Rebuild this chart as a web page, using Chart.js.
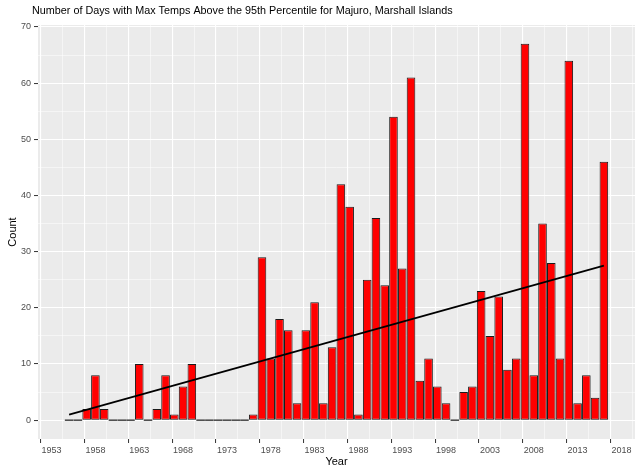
<!DOCTYPE html>
<html>
<head>
<meta charset="utf-8">
<script src="https://cdn.jsdelivr.net/npm/chart.js@4/dist/chart.umd.min.js"></script>
<style>
html,body{margin:0;padding:0;background:#fff;}
#wrap{width:636px;height:469px;position:relative;}
</style>
</head>
<body>
<div id="wrap"><canvas id="c"></canvas></div>
<script>
const chartTitle = "Number of Days with Max Temps Above the 95th Percentile for Majuro, Marshall Islands";
const years = [1955,1956,1957,1958,1959,1960,1961,1962,1963,1964,1965,1966,1967,1968,1969,1970,1971,1972,1973,1974,1975,1976,1977,1978,1979,1980,1981,1982,1983,1984,1985,1986,1987,1988,1989,1990,1991,1992,1993,1994,1995,1996,1997,1998,1999,2000,2001,2002,2003,2004,2005,2006,2007,2008,2009,2010,2011,2012,2013,2014,2015,2016];
const counts = [0,0,2,8,2,0,0,0,10,0,2,8,1,6,10,0,0,0,0,0,0,1,29,11,18,16,3,16,21,3,13,42,38,1,25,36,24,54,27,61,7,11,6,3,0,5,6,23,15,22,9,11,67,8,35,28,11,64,3,8,4,46];
const trendYears = [1955, 2016];
const trendValues = [1.0, 27.5];
const xMajorTicks = [1953,1958,1963,1968,1973,1978,1983,1988,1993,1998,2003,2008,2013,2018];
const yMajorTicks = [0,10,20,30,40,50,60,70];

const isMajorX = v => xMajorTicks.some(t => Math.abs(t - v) < 1e-6);
const isMajorY = v => yMajorTicks.some(t => Math.abs(t - v) < 1e-6);
const tv = c => (c && c.tick) ? c.tick.value : NaN;

const panelBg = {
  id: 'panelBg',
  beforeDraw(chart) {
    const {ctx, chartArea: a} = chart;
    ctx.save();
    ctx.fillStyle = '#EBEBEB';
    ctx.fillRect(a.left, a.top, a.right - a.left, a.bottom - a.top);
    ctx.restore();
  },
  afterDraw(chart) {
    const ctx = chart.ctx;
    ctx.save();
    ctx.fillStyle = '#000';
    ctx.font = '10.8px "Liberation Sans", Arial, sans-serif';
    ctx.textBaseline = 'middle';
    ctx.textAlign = 'left';
    ctx.fillText(chartTitle, 32, 11);
    ctx.restore();
  }
};

new Chart(document.getElementById('c'), {
  type: 'bar',
  data: {
    datasets: [
      {
        type: 'line',
        data: trendYears.map((x, i) => ({x, y: trendValues[i]})),
        borderColor: '#000',
        borderWidth: 1.8,
        pointRadius: 0,
        order: 0
      },
      {
        type: 'bar',
        data: years.map((x, i) => ({x, y: counts[i]})),
        backgroundColor: ctx => (ctx.raw && ctx.raw.y === 0) ? '#444' : '#FF0000',
        borderColor: '#1a1a1a',
        borderWidth: ctx => (ctx.raw && ctx.raw.y === 0) ? 0 : 1,
        borderSkipped: false,
        minBarLength: 1.5,
        categoryPercentage: 0.98,
        barPercentage: 1.0,
        order: 1
      }
    ]
  },
  options: {
    responsive: true,
    maintainAspectRatio: false,
    animation: false,
    layout: {padding: {top: 25, right: 1, left: 0, bottom: 0}},
    plugins: {legend: {display: false}, tooltip: {enabled: false}, title: {display: false}},
    scales: {
      x: {
        type: 'linear',
        min: 1951.45,
        max: 2019.55,
        offset: false,
        afterBuildTicks: s => {
          const t = [];
          for (let v = 1953; v <= 2018.01; v += 2.5) t.push({value: v});
          s.ticks = t;
        },
        afterFit: s => { s.height = 30; },
        border: {display: false},
        grid: {
          color: '#FFFFFF',
          lineWidth: c => isMajorX(tv(c)) ? 1.1 : 0.5,
          tickColor: c => isMajorX(tv(c)) ? '#333333' : 'rgba(0,0,0,0)',
          tickLength: 4,
          tickWidth: 1
        },
        ticks: {
          autoSkip: false,
          maxRotation: 0,
          padding: 2,
          color: '#4D4D4D',
          font: {size: 9, family: '"Liberation Sans", Arial, sans-serif'},
          callback: v => isMajorX(v) ? String(v) : ''
        },
        title: {
          display: true,
          text: 'Year',
          color: '#000',
          font: {size: 11, family: '"Liberation Sans", Arial, sans-serif'},
          padding: {top: 0, bottom: 0}
        }
      },
      y: {
        type: 'linear',
        min: -3.35,
        max: 70.35,
        afterBuildTicks: s => {
          const t = [];
          for (let v = 0; v <= 70; v += 5) t.push({value: v});
          s.ticks = t;
        },
        afterFit: s => { s.width = 38; },
        border: {display: false},
        grid: {
          color: '#FFFFFF',
          lineWidth: c => isMajorY(tv(c)) ? 1.1 : 0.5,
          tickColor: c => isMajorY(tv(c)) ? '#333333' : 'rgba(0,0,0,0)',
          tickLength: 4,
          tickWidth: 1
        },
        ticks: {
          autoSkip: false,
          padding: 3,
          color: '#4D4D4D',
          font: {size: 9, family: '"Liberation Sans", Arial, sans-serif'},
          callback: v => isMajorY(v) ? String(v) : ''
        },
        title: {
          display: true,
          text: 'Count',
          color: '#000',
          font: {size: 11, family: '"Liberation Sans", Arial, sans-serif'},
          padding: {top: 6, bottom: 0}
        }
      }
    }
  },
  plugins: [panelBg]
});
</script>
</body>
</html>
